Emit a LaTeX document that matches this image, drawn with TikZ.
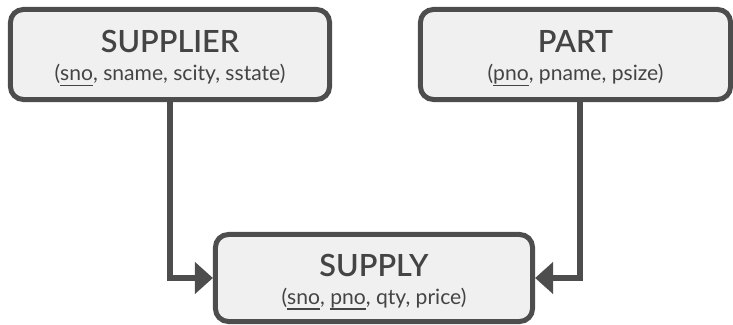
\documentclass[tikz,border=0pt]{standalone}
\usepackage{fontspec}
\setmainfont{Lato}
\IfFontExistsTF{Lato Semibold}{\newfontfamily\entfont{Lato Semibold}}{\newfontfamily\entfont{Lato}}
\usetikzlibrary{arrows.meta}
\definecolor{edgegray}{HTML}{4D4D4D}
\definecolor{boxfill}{HTML}{F0F0F0}
\definecolor{textgray}{HTML}{444444}
\tikzset{entity/.style={draw=edgegray, fill=boxfill, line width=0.05cm, rounded corners=0.13cm, align=center, text=textgray, inner sep=0pt, font=\fontsize{6}{7.9}\selectfont}}
\tikzset{arrow/.style={-{Triangle[length=0.18cm,width=0.31cm]}, draw=edgegray, line width=0.06cm}}
\newcommand{\keyattr}[1]{\underline{\smash{#1}}}
\newcommand{\entname}[1]{{\entfont\fontsize{8.7}{7.9}\selectfont\rule{0pt}{9pt}#1}}

\begin{document}
\begin{tikzpicture}[x=0.01cm, y=-0.01cm]
      \useasboundingbox (0,0) rectangle (733,325);

      \node[entity, minimum width=3.19cm, minimum height=0.90cm] (supplier) at (170, 54.5)
        {\entname{SUPPLIER}\\(\keyattr{sno}, sname, scity, sstate)};
      \node[entity, minimum width=3.10cm, minimum height=0.90cm] (part) at (575.5, 54.5)
        {\entname{PART}\\(\keyattr{pno}, pname, psize)};
      \node[entity, minimum width=3.17cm, minimum height=0.87cm] (supply) at (374, 278)
        {\entname{SUPPLY}\\(\keyattr{sno}, \keyattr{pno}, qty, price)};

      \draw[arrow] (supplier) |- (supply);
      \draw[arrow] ([xshift=0.045cm]part.south) |- (supply);

    \end{tikzpicture}
\end{document}
